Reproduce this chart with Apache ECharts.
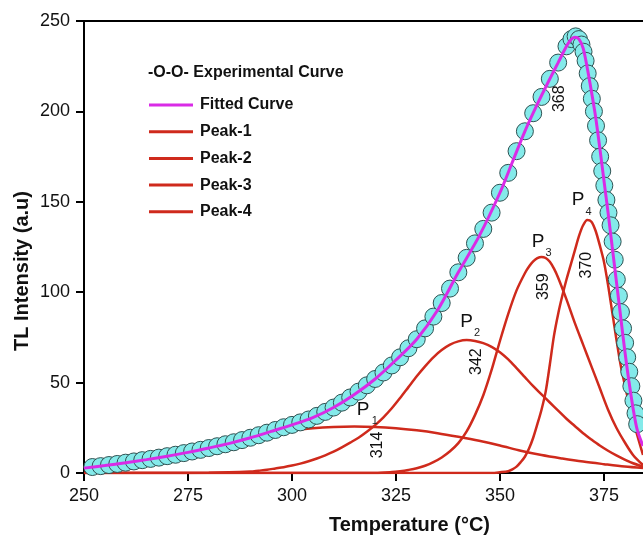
<!DOCTYPE html>
<html>
<head>
<meta charset="utf-8">
<script src="https://cdn.jsdelivr.net/npm/echarts@6/dist/echarts.min.js"></script>
<style>
html,body{margin:0;padding:0;background:#fff;}
#chart{width:643px;height:539px;}
</style>
</head>
<body>
<div id="chart"></div>
<script>
// ---------- data ----------
const xTicks = [250, 275, 300, 325, 350, 375];
const yTicks = [0, 50, 100, 150, 200, 250];
const xMax = 384.4;

// experimental points (temperature, intensity)
const expX = [252,254,256,258,260,262,264,266,268,270,272,274,276,278,280,282,284,286,288,290,292,294,296,298,300,302,304,306,308,310,312,314,316,318,320,322,324,326,328,330,332,334,336,338,340,342,344,346,348,350,352,354,356,358,360,362,364,366,367.2,368.2,369,369.6,370.1,370.6,371.1,371.6,372.1,372.6,373.1,373.6,374.1,374.6,375.1,375.6,376.1,376.6,377.1,377.6,378.1,378.6,379.1,379.6,380.1,380.6,381.1,381.6,382.1,382.6,383];
const expY = [3.3,3.8,4.4,5.0,5.7,6.4,7.1,7.8,8.5,9.3,10.1,11.0,11.9,12.8,13.8,14.8,15.9,17.0,18.2,19.5,20.9,22.3,23.8,25.3,26.6,28.0,29.6,31.6,33.8,36.2,38.9,41.8,45.0,48.5,52.0,55.6,59.5,64.0,69.0,74.0,80.0,86.5,94.0,102,111,119,127,135,144,155,166,178,189,199,208,218,227,236,240,241.5,240,237,233,228,221,214,207,200,192,184,175,167,159,151,144,137,128,118,107,98,89,80,72,64,56,48,40,33,27];

// fitted curve
const fitX = [250,255,260,265,270,275,280,285,290,295,300,305,310,315,320,325,330,335,340,345,350,353,356,359,362,364,366,367,368,369,370,371,372,373,374,375,376,377,378,379,380,381,382,383,384.4];
const fitY = [2.7,4.1,5.7,7.4,9.3,11.4,13.8,16.4,19.5,23.0,26.6,30.6,36.2,43.4,52.0,62.5,74,90,111,131,155,172,189,204,218,227,236,239.5,241,240,235,224,211,197,180,162,144,125,106,87,68,51,36,24,15];

// component peaks
const p1X = [250,260,270,280,290,295,300,305,310,315,320,325,330,335,340,345,350,355,360,365,370,375,380,384.4];
const p1Y = [2.5,5.5,9,13.5,18.5,21.5,23.5,24.8,25.5,25.7,25.5,24.8,23.6,22,20,17.8,15.2,12.3,9.9,8,6.3,4.9,3.6,2.8];

const p2X = [250,270,280,290,292,294,296,298,300,302,304,306,308,310,312,314,316,318,320,322,324,326,328,330,332,334,336,338,340,342,344,346,348,350,352,354,356,358,360,362,364,366,368,370,372,374,376,378,380,382,384.4];
const p2Y = [0,0,0.1,0.8,1.3,1.8,2.5,3.2,4.1,5.2,6.5,8,9.8,11.8,14.2,16.8,19.5,22.8,26.5,30.8,35.8,41.5,47.5,53.5,59,64,68,71,72.8,73.5,73,71.8,69.8,66.8,62.8,58,53,48,43.5,39,34.5,30,26,22,18.5,15.2,12.3,9.7,7.4,5.4,3.5];

const p3X = [250,320,324,326,328,330,332,334,336,338,340,342,344,346,348,350,352,354,356,357,358,359,360,361,362,363,364,366,368,370,372,374,376,378,380,382,384.4];
const p3Y = [0,0,0.5,1,1.7,2.6,4,6,8.6,12,16.5,23,32,43,57,73,88,101,110.5,114.2,117,118.8,119.5,118.9,116.8,113,108,96,83,71,59,47,35,25,17,10,4.4];

const p4X = [250,348,350,352,353,354,355,356,357,358,359,360,361,362,363,364,365,366,367,368,369,370,371,372,373,374,375,376,377,378,379,380,381,382,383,384.4];
const p4Y = [0,0,0.4,1,2,3.5,6,9,13.5,19.5,27,35,45,60,76,88,98,107,115,123,131,137,140,139,134,126,117,104,89,74,60,49,39,30,21,10];

// annotations [label, temperature, intensity]
const peakTempLabels = [["314",320.7,15.5],["342",344.4,61.6],["359",360.4,103],["370",370.8,115],["368",364.4,207]];
const peakNames = [["P","1",317.1,34.8,319.9,29.0],["P","2",342.0,83.7,344.5,77.3],["P","3",359.2,128,361.7,121.5],["P","4",368.8,151,371.3,144.5]];

const seriesNames = ["Fitted Curve","Peak-1","Peak-2","Peak-3","Peak-4"];

// ---------- chart ----------
const RED = '#cf2a1c';
const MAG = '#d92be6';
const FONT = '"Liberation Sans", Arial, sans-serif';
const zip = (xs, ys) => xs.map((x, i) => [x, ys[i]]);

const chart = echarts.init(document.getElementById('chart'), null, {renderer: 'canvas'});

function peakSeries(name, xs, ys) {
  return {
    name: name, type: 'line', data: zip(xs, ys), smooth: 0.3,
    showSymbol: false, symbol: 'none', clip: true,
    lineStyle: {color: RED, width: 2.5}, itemStyle: {color: RED}, z: 2
  };
}

const option = {
  animation: false,
  backgroundColor: '#ffffff',
  grid: {left: 84, right: 0, top: 21, bottom: 66, containLabel: false},
  xAxis: [{
    type: 'value', min: xTicks[0], max: xMax, interval: 25,
    axisLine: {show: true, onZero: false, lineStyle: {color: '#000', width: 2}},
    axisTick: {show: true, inside: false, length: 8, lineStyle: {color: '#000', width: 2}},
    axisLabel: {show: true, margin: 14, fontSize: 18, color: '#111', fontFamily: FONT,
      showMaxLabel: false,
      formatter: v => xTicks.indexOf(v) >= 0 ? String(v) : ''},
    splitLine: {show: false}
  }, {
    type: 'value', position: 'top', min: xTicks[0], max: xMax,
    axisLine: {show: true, onZero: false, lineStyle: {color: '#000', width: 2}},
    axisTick: {show: false}, axisLabel: {show: false}, splitLine: {show: false}
  }],
  yAxis: {
    type: 'value', min: yTicks[0], max: yTicks[yTicks.length - 1], interval: 50,
    axisLine: {show: true, onZero: false, lineStyle: {color: '#000', width: 2}},
    axisTick: {show: true, inside: false, length: 8, lineStyle: {color: '#000', width: 2}},
    axisLabel: {show: true, margin: 14, fontSize: 18, color: '#111', fontFamily: FONT},
    splitLine: {show: false}
  },
  legend: {
    data: seriesNames,
    orient: 'vertical', left: 144, top: 92,
    icon: 'rect', itemWidth: 44, itemHeight: 3, itemGap: 10.7,
    selectedMode: false,
    textStyle: {fontSize: 16, fontWeight: 'bold', color: '#111', fontFamily: FONT, lineHeight: 16, padding: [0,0,0,2]}
  },
  series: [
    peakSeries('Peak-1', p1X, p1Y),
    peakSeries('Peak-2', p2X, p2Y),
    peakSeries('Peak-3', p3X, p3Y),
    peakSeries('Peak-4', p4X, p4Y),
    {
      name: 'Experimental Curve', type: 'scatter', data: zip(expX, expY),
      symbol: 'circle', symbolSize: 17,
      itemStyle: {color: '#84eaea', borderColor: '#2f5252', borderWidth: 1, opacity: 1},
      z: 3, clip: true
    },
    {
      name: 'Fitted Curve', type: 'line', data: zip(fitX, fitY), smooth: 0.3,
      showSymbol: false, symbol: 'none',
      lineStyle: {color: MAG, width: 3}, itemStyle: {color: MAG}, z: 4, clip: true
    }
  ],
  graphic: [
    {type: 'text', left: 148, top: 65,
     style: {text: '-O-O- Experimental Curve', fontSize: 16, fontWeight: 'bold', fill: '#111', fontFamily: FONT}},
    {type: 'text', left: 329, top: 515,
     style: {text: 'Temperature (°C)', fontSize: 20, fontWeight: 'bold', fill: '#111', fontFamily: FONT}},
    {type: 'text', x: 22, y: 271, rotation: Math.PI / 2, originX: 0, originY: 0,
     style: {text: 'TL Intensity (a.u)', fontSize: 20, fontWeight: 'bold', fill: '#111', fontFamily: FONT,
       align: 'center', verticalAlign: 'middle'}}
  ]
};
chart.setOption(option);

// annotations placed from data coordinates
const ann = [];
peakTempLabels.forEach(([t, x, y]) => {
  const p = chart.convertToPixel({gridIndex: 0}, [x, y]);
  ann.push({type: 'text', x: p[0], y: p[1], rotation: Math.PI / 2,
    style: {text: t, fontSize: 16, fill: '#111', fontFamily: FONT, align: 'center', verticalAlign: 'middle'}, z: 10});
});
peakNames.forEach(([P, s, x1, y1, x2, y2]) => {
  const p1 = chart.convertToPixel({gridIndex: 0}, [x1, y1]);
  const p2 = chart.convertToPixel({gridIndex: 0}, [x2, y2]);
  ann.push({type: 'text', x: p1[0], y: p1[1],
    style: {text: P, fontSize: 19, fill: '#111', fontFamily: FONT, align: 'center', verticalAlign: 'middle'}, z: 10});
  ann.push({type: 'text', x: p2[0], y: p2[1],
    style: {text: s, fontSize: 11, fill: '#222', fontFamily: FONT, align: 'center', verticalAlign: 'middle'}, z: 10});
});
chart.setOption({graphic: option.graphic.concat(ann)});
</script>
</body>
</html>
